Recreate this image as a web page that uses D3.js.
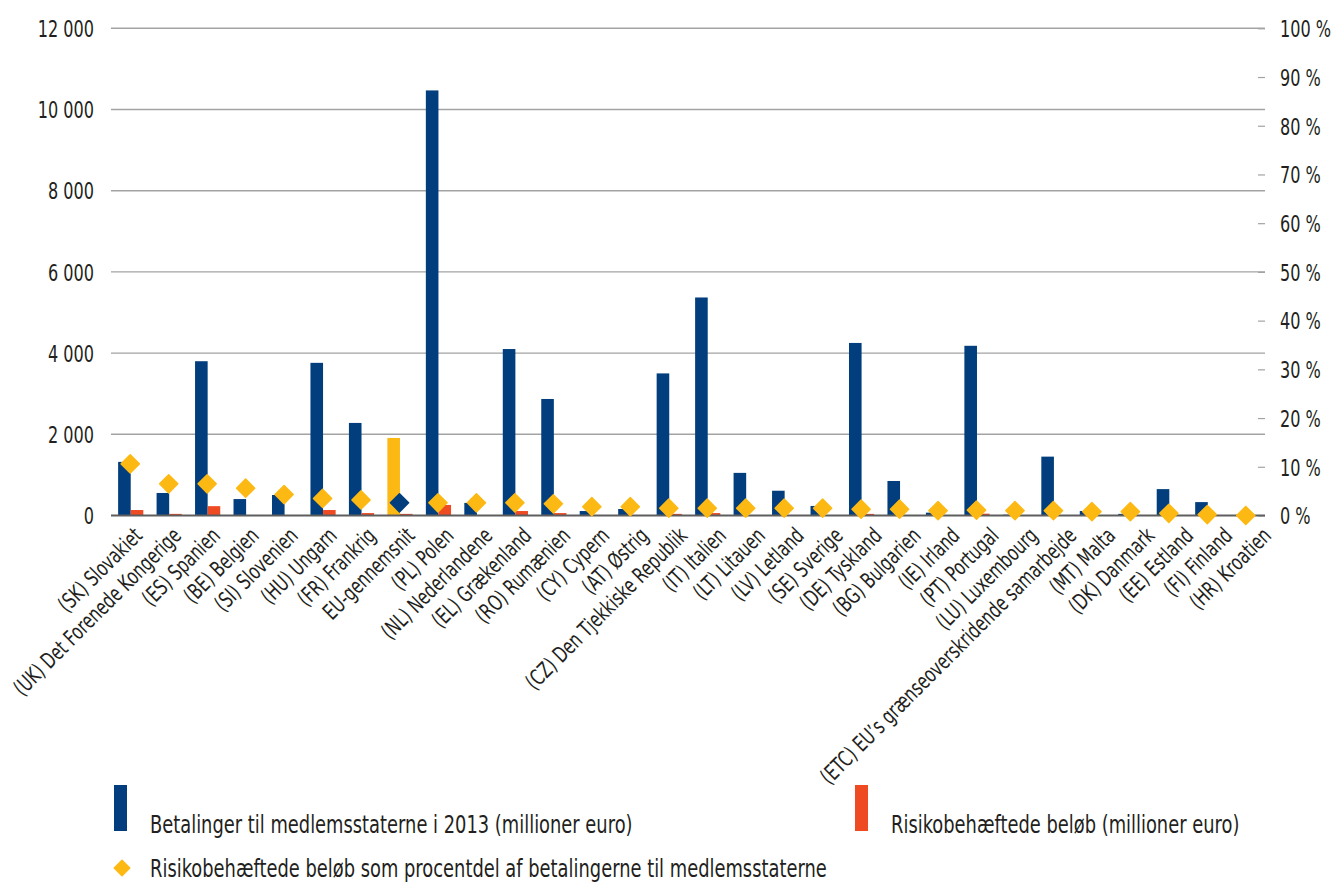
<!DOCTYPE html>
<html>
<head>
<meta charset="utf-8">
<script src="https://cdn.jsdelivr.net/npm/d3@7"></script>
<style>
  html, body { margin: 0; padding: 0; background: #fff; }
  svg text { font-family: 'DejaVu Sans', 'Liberation Sans', sans-serif; fill: #231f20; }
</style>
</head>
<body>
<svg id="chart" width="1333" height="882"></svg>
<script>
// Member states, ordered by the share of at-risk amounts
const categories = [
  "(SK) Slovakiet", "(UK) Det Forenede Kongerige", "(ES) Spanien", "(BE) Belgien",
  "(SI) Slovenien", "(HU) Ungarn", "(FR) Frankrig", "EU-gennemsnit", "(PL) Polen",
  "(NL) Nederlandene", "(EL) Grækenland", "(RO) Rumænien", "(CY) Cypern",
  "(AT) Østrig", "(CZ) Den Tjekkiske Republik", "(IT) Italien", "(LT) Litauen",
  "(LV) Letland", "(SE) Sverige", "(DE) Tyskland", "(BG) Bulgarien", "(IE) Irland",
  "(PT) Portugal", "(LU) Luxembourg", "(ETC) EU’s grænseoverskridende samarbejde",
  "(MT) Malta", "(DK) Danmark", "(EE) Estland", "(FI) Finland", "(HR) Kroatien"
];

// Payments to member states in 2013 (million euro)
const payments = [
  1320, 555, 3800, 405, 505, 3760, 2280, 1910, 10470,
  310, 4100, 2870, 110, 160, 3500, 5370, 1050,
  610, 235, 4250, 850, 70,
  4180, 20, 1450,
  110, 40, 650, 330, 0
];

// Amounts at risk (million euro)
const atRisk = [
  135, 40, 230, 6, 6, 135, 60, 40, 260,
  10, 110, 60, 6, 6, 40, 60, 8,
  8, 6, 40, 8, 6,
  45, 6, 8,
  6, 6, 6, 6, 0
];

// Amounts at risk as a share of payments
const riskShare = [
  0.106, 0.065, 0.065, 0.056, 0.043, 0.035, 0.032, 0.026, 0.026,
  0.026, 0.026, 0.024, 0.018, 0.018, 0.015, 0.015, 0.015,
  0.015, 0.015, 0.013, 0.013, 0.010,
  0.011, 0.010, 0.010,
  0.008, 0.008, 0.0045, 0.002, 0.0
];

const leftTicks = [0, 2000, 4000, 6000, 8000, 10000, 12000];
const rightTicks = [0, 0.1, 0.2, 0.3, 0.4, 0.5, 0.6, 0.7, 0.8, 0.9, 1.0];
const averageCategory = "EU-gennemsnit";

const legendLabels = {
  payments: "Betalinger til medlemsstaterne i 2013 (millioner euro)",
  atRisk: "Risikobehæftede beløb (millioner euro)",
  share: "Risikobehæftede beløb som procentdel af betalingerne til medlemsstaterne"
};

const NAVY = "#023e7d", RED = "#ef4b23", YELLOW = "#fdb913";

// squeeze axis tick text horizontally around its own anchor (condensed look)
function squeezeTicks(sel, k) {
  sel.each(function () {
    const t = d3.select(this);
    const tx = +t.attr("x") || 0;
    t.attr("x", 0).attr("transform", `translate(${tx},0) scale(${k},1)`);
  });
}

const svg = d3.select("#chart");
const plot = { left: 111, right: 1265, top: 28.3, bottom: 515.5 };

const x = d3.scaleBand().domain(categories).range([plot.left, plot.right]).padding(0);
const inner = d3.scaleBand().domain(["payments", "atRisk"])
  .range([x.bandwidth() * 0.185, x.bandwidth() * 0.84]);
const xLabel = d3.scaleBand().domain(categories).range([124, 1292]).padding(0);
const y = d3.scaleLinear().domain([0, 12000]).range([plot.bottom, plot.top]);
const y2 = d3.scaleLinear().domain([0, 1]).range([plot.bottom, plot.top]);

// horizontal gridlines
svg.append("g").selectAll("line").data(leftTicks.filter(d => d > 0)).join("line")
  .attr("x1", plot.left).attr("x2", plot.right)
  .attr("y1", d => y(d)).attr("y2", d => y(d))
  .attr("stroke", "#a3a3a3").attr("stroke-width", 1.4);

// left axis
const gl = svg.append("g").attr("transform", `translate(${plot.left},0)`)
  .call(d3.axisLeft(y).tickValues(leftTicks).tickSize(0).tickPadding(17)
    .tickFormat(d => d3.format(",")(d).replace(/,/g, " ")));
gl.select(".domain").remove();
gl.selectAll("text").attr("font-size", 23).attr("dy", "0.36em").call(squeezeTicks, 0.7);

// right axis
const gr = svg.append("g").attr("transform", `translate(${plot.right},0)`)
  .call(d3.axisRight(y2).tickValues(rightTicks).tickSizeInner(-7).tickSizeOuter(0).tickPadding(15)
    .tickFormat(d => Math.round(d * 100) + " %"));
gr.select(".domain").remove();
gr.selectAll(".tick line").attr("stroke", "#a3a3a3").attr("stroke-width", 1.2);
gr.selectAll("text").attr("font-size", 23).attr("dy", "0.36em").call(squeezeTicks, 0.7);

// payment bars
svg.append("g").selectAll("rect").data(categories).join("rect")
  .attr("x", (d) => x(d) + inner("payments"))
  .attr("width", inner.bandwidth())
  .attr("y", (d, i) => y(payments[i]))
  .attr("height", (d, i) => y(0) - y(payments[i]))
  .attr("fill", d => d === averageCategory ? YELLOW : NAVY);

// at-risk bars
svg.append("g").selectAll("rect").data(categories).join("rect")
  .attr("x", (d) => x(d) + inner("atRisk"))
  .attr("width", inner.bandwidth())
  .attr("y", (d, i) => y(atRisk[i]))
  .attr("height", (d, i) => y(0) - y(atRisk[i]))
  .attr("fill", RED);

// baseline
svg.append("line")
  .attr("x1", plot.left).attr("x2", plot.right)
  .attr("y1", y(0)).attr("y2", y(0))
  .attr("stroke", "#5e5e5e").attr("stroke-width", 2);

// share markers
const diamond = d3.symbol().type(d3.symbolSquare).size(165);
svg.append("g").selectAll("path").data(categories).join("path")
  .attr("d", diamond)
  .attr("transform", (d, i) => `translate(${x(d) + x.bandwidth() / 2},${y2(riskShare[i])}) rotate(45)`)
  .attr("fill", d => d === averageCategory ? NAVY : YELLOW)
  .attr("stroke", d => d === averageCategory ? NAVY : YELLOW)
  .attr("stroke-width", 1.5).attr("stroke-linejoin", "round");

// category labels
svg.append("g").selectAll("text").data(categories).join("text")
  .attr("transform", d => `translate(${xLabel(d) + xLabel.bandwidth() / 2},537) rotate(-45) scale(0.705,1)`)
  .attr("text-anchor", "end")
  .attr("font-size", 22)
  .text(d => d);

// legend
const lg = svg.append("g");
lg.append("rect").attr("x", 114).attr("y", 785).attr("width", 13).attr("height", 46).attr("fill", NAVY);
lg.append("text").attr("transform", "translate(150,833) scale(0.715,1)").attr("font-size", 25).text(legendLabels.payments);
lg.append("rect").attr("x", 855).attr("y", 785).attr("width", 13).attr("height", 46).attr("fill", RED);
lg.append("text").attr("transform", "translate(891,833) scale(0.715,1)").attr("font-size", 25).text(legendLabels.atRisk);
lg.append("path").attr("d", d3.symbol().type(d3.symbolSquare).size(120))
  .attr("transform", "translate(122,868) rotate(45)").attr("fill", YELLOW)
  .attr("stroke", YELLOW).attr("stroke-width", 1.5).attr("stroke-linejoin", "round");
lg.append("text").attr("transform", "translate(150,877) scale(0.715,1)").attr("font-size", 25).text(legendLabels.share);
</script>
</body>
</html>
